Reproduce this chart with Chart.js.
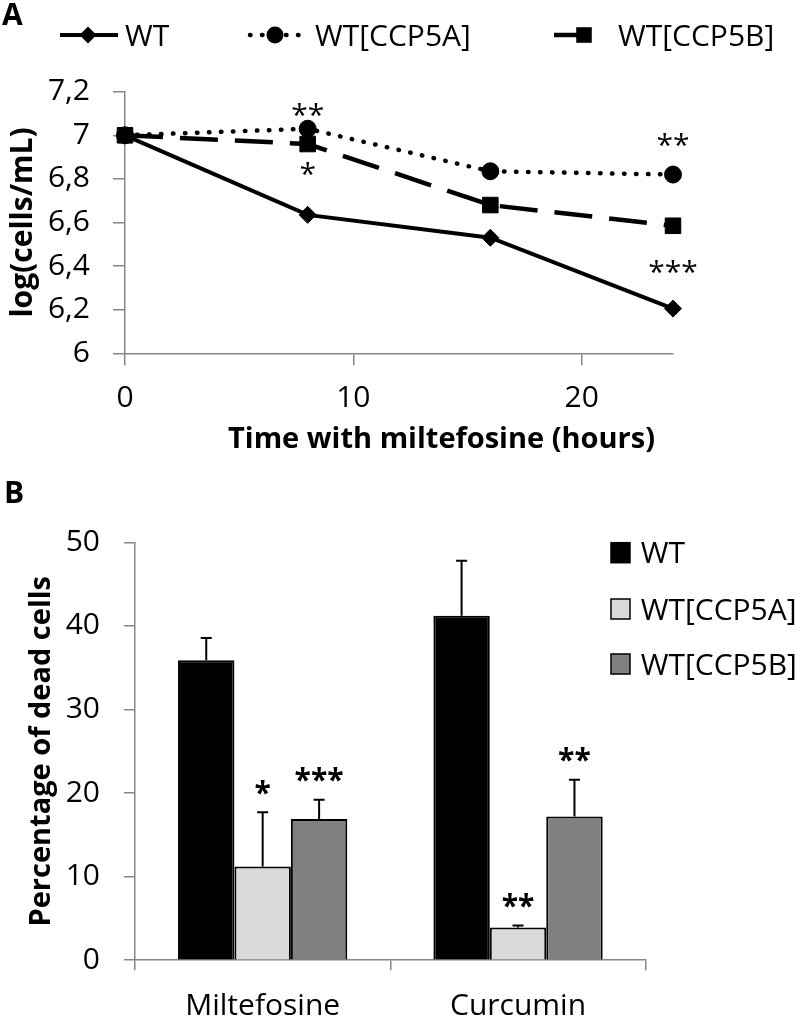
<!DOCTYPE html>
<html>
<head>
<meta charset="utf-8">
<script src="https://cdn.jsdelivr.net/npm/chart.js@4.4.1/dist/chart.umd.min.js"></script>
<style>
  html, body { margin: 0; padding: 0; background: #fff; }
  #wrap { position: relative; width: 800px; height: 1017px; }
  canvas { position: absolute; left: 0; }
  #growth { top: 0; }
  #death { top: 470px; }
</style>
</head>
<body>
<div id="wrap">
  <canvas id="growth" width="800" height="470"></canvas>
  <canvas id="death" width="800" height="547"></canvas>
</div>
<script>
// panel A: growth under miltefosine
const hours = [0, 8, 16, 24];
const logWT = [7.0, 6.635, 6.53, 6.205];
const logCCP5A = [7.0, 7.03, 6.835, 6.82];
const logCCP5B = [7.0, 6.96, 6.68, 6.585];
const strains = ["WT", "WT[CCP5A]", "WT[CCP5B]"];

// panel B: dead cells after treatment
const drugs = ["Miltefosine", "Curcumin"];
const deadWT = [35.9, 41.2];
const deadCCP5A = [11.2, 3.9];
const deadCCP5B = [16.9, 17.2];
const errWT = [2.65, 6.6];
const errCCP5A = [6.5, 0.25];
const errCCP5B = [2.3, 4.4];
const starsWT = ["", ""];
const starsCCP5A = ["*", "**"];
const starsCCP5B = ["***", "**"];

const FONT = "'Open Sans', 'Noto Sans', sans-serif";
const AXIS_GRAY = "#878787";
Chart.defaults.font.family = FONT;
Chart.defaults.color = "#000";

// where the significance marks of panel A sit, relative to their point
const growthStars = [
  { series: 1, hour: 8, text: "**", dy: -19 },
  { series: 2, hour: 8, text: "*", dy: 25 },
  { series: 1, hour: 24, text: "**", dy: -35 },
  { series: 0, hour: 24, text: "***", dy: -42 },
];

function toPoints(values) {
  return hours.map((h, i) => ({ x: h, y: values[i] }));
}

function capText(ctx, text, x, cy, font, align) {
  ctx.font = font;
  ctx.textAlign = align || "left";
  ctx.textBaseline = "alphabetic";
  const cap = ctx.measureText("H").actualBoundingBoxAscent;
  ctx.fillText(text, x, cy + cap / 2);
}

function glyphText(ctx, text, x, cy, font) {
  ctx.font = font;
  ctx.textAlign = "center";
  ctx.textBaseline = "alphabetic";
  const m = ctx.measureText(text);
  ctx.fillText(text, x, cy + (m.actualBoundingBoxAscent - m.actualBoundingBoxDescent) / 2);
}

function drawMarker(ctx, style, x, y, r) {
  ctx.beginPath();
  if (style === "rectRot") {
    ctx.moveTo(x, y - r);
    ctx.lineTo(x + r, y);
    ctx.lineTo(x, y + r);
    ctx.lineTo(x - r, y);
    ctx.closePath();
  } else if (style === "circle") {
    ctx.arc(x, y, r, 0, Math.PI * 2);
  } else {
    const s = r * Math.SQRT1_2;
    ctx.rect(x - s, y - s, 2 * s, 2 * s);
  }
  ctx.fill();
}

const growthDecor = {
  id: "growthDecor",
  afterDraw(chart) {
    const ctx = chart.ctx;
    ctx.save();
    ctx.fillStyle = "#000";
    capText(ctx, "A", 2, 14, "bold 30px " + FONT);

    // legend
    const items = [
      { line: [60, 118], mark: 88, text: 125 },
      { line: [250, 303], mark: 275, text: 315 },
      { line: [554, 584], mark: 584, text: 618 },
    ];
    chart.data.datasets.forEach((ds, i) => {
      const it = items[i];
      ctx.save();
      ctx.strokeStyle = "#000";
      ctx.lineWidth = ds.borderWidth;
      ctx.lineCap = ds.borderCapStyle || "butt";
      ctx.setLineDash(ds.borderDash || []);
      ctx.beginPath();
      ctx.moveTo(it.line[0], 35);
      ctx.lineTo(it.line[1], 35);
      ctx.stroke();
      ctx.restore();
      drawMarker(ctx, ds.pointStyle, it.mark, 35, ds.pointRadius);
      capText(ctx, ds.label, it.text, 35, "30px " + FONT);
    });

    capText(ctx, "Time with miltefosine (hours)", 441.5, 437, "bold 29px " + FONT, "center");

    growthStars.forEach((s) => {
      const pt = chart.getDatasetMeta(s.series).data[hours.indexOf(s.hour)];
      glyphText(ctx, s.text, pt.x, pt.y + s.dy, "30px " + FONT);
    });
    ctx.restore();
  },
};

new Chart(document.getElementById("growth"), {
  type: "line",
  data: {
    datasets: [
      {
        label: strains[0],
        data: toPoints(logWT),
        borderColor: "#000",
        backgroundColor: "#000",
        borderWidth: 4,
        pointStyle: "rectRot",
        pointRadius: 8.5,
        pointBorderWidth: 1,
        clip: false,
      },
      {
        label: strains[1],
        data: toPoints(logCCP5A),
        borderColor: "#000",
        backgroundColor: "#000",
        borderWidth: 4.5,
        borderDash: [0.5, 11.5],
        borderCapStyle: "round",
        pointStyle: "circle",
        pointRadius: 8.5,
        pointBorderWidth: 1,
        clip: false,
      },
      {
        label: strains[2],
        data: toPoints(logCCP5B),
        borderColor: "#000",
        backgroundColor: "#000",
        borderWidth: 4.5,
        borderDash: [38, 17],
        pointStyle: "rect",
        pointRadius: 11,
        pointBorderWidth: 1,
        clip: false,
      },
    ],
  },
  options: {
    responsive: false,
    animation: false,
    events: [],
    layout: { padding: { top: 91.7, right: 127, bottom: 0, left: 0 } },
    plugins: { legend: { display: false }, tooltip: { enabled: false } },
    scales: {
      x: {
        type: "linear",
        min: 0,
        max: 24,
        ticks: { stepSize: 10, includeBounds: false, padding: 14.7, maxRotation: 0, font: { size: 30 } },
        grid: { drawOnChartArea: false, tickLength: 12, color: AXIS_GRAY, lineWidth: 1.5 },
        border: { color: AXIS_GRAY, width: 1.5 },
        afterFit: (s) => { s.height = 116.7; },
      },
      y: {
        min: 6,
        max: 7.2,
        ticks: {
          stepSize: 0.2,
          padding: 23,
          font: { size: 30 },
          callback: (v) => String(Math.round(v * 10) / 10).replace(".", ","),
        },
        grid: { drawOnChartArea: false, tickLength: 12, color: AXIS_GRAY, lineWidth: 1.5 },
        border: { color: AXIS_GRAY, width: 1.5 },
        title: { display: true, text: "log(cells/mL)", font: { size: 30, weight: "bold" }, padding: { top: 5, bottom: 0 } },
        afterFit: (s) => { s.width = 125; },
      },
    },
  },
  plugins: [growthDecor],
});

const deathDecor = {
  id: "deathDecor",
  afterDatasetsDraw(chart) {
    const ctx = chart.ctx;
    const y = chart.scales.y;
    const vals = [deadWT, deadCCP5A, deadCCP5B];
    const errs = [errWT, errCCP5A, errCCP5B];
    ctx.save();
    ctx.strokeStyle = "#000";
    ctx.lineWidth = 2;
    chart.data.datasets.forEach((ds, i) => {
      chart.getDatasetMeta(i).data.forEach((bar, j) => {
        const top = y.getPixelForValue(vals[i][j] + errs[i][j]);
        ctx.beginPath();
        ctx.moveTo(bar.x, bar.y);
        ctx.lineTo(bar.x, top);
        ctx.moveTo(bar.x - 5.5, top);
        ctx.lineTo(bar.x + 5.5, top);
        ctx.stroke();
      });
    });
    ctx.restore();
  },
  afterDraw(chart) {
    const ctx = chart.ctx;
    const y = chart.scales.y;
    const vals = [deadWT, deadCCP5A, deadCCP5B];
    const errs = [errWT, errCCP5A, errCCP5B];
    const stars = [starsWT, starsCCP5A, starsCCP5B];
    ctx.save();
    ctx.fillStyle = "#000";
    capText(ctx, "B", 4, 22, "bold 30px " + FONT);

    chart.data.datasets.forEach((ds, i) => {
      chart.getDatasetMeta(i).data.forEach((bar, j) => {
        if (!stars[i][j]) return;
        const top = y.getPixelForValue(vals[i][j] + errs[i][j]);
        glyphText(ctx, stars[i][j], bar.x, top - 25, "bold 30px " + FONT);
      });
    });

    // legend
    const rows = [82.7, 139, 194];
    chart.data.datasets.forEach((ds, i) => {
      ctx.fillStyle = ds.backgroundColor;
      ctx.fillRect(611, rows[i] - 10, 19, 20);
      ctx.strokeStyle = "#000";
      ctx.lineWidth = 1.5;
      ctx.strokeRect(611, rows[i] - 10, 19, 20);
      ctx.fillStyle = "#000";
      capText(ctx, ds.label, 640.7, rows[i], "30px " + FONT);
    });
    ctx.restore();
  },
};

new Chart(document.getElementById("death"), {
  type: "bar",
  data: {
    labels: drugs,
    datasets: [
      { label: strains[0], data: deadWT, backgroundColor: "#000000" },
      { label: strains[1], data: deadCCP5A, backgroundColor: "#d9d9d9" },
      { label: strains[2], data: deadCCP5B, backgroundColor: "#808080" },
    ],
  },
  options: {
    responsive: false,
    animation: false,
    events: [],
    datasets: { bar: { barPercentage: 1, categoryPercentage: 0.663, borderColor: "#000", borderWidth: 2 } },
    layout: { padding: { top: 72.3, right: 154.3, bottom: 0, left: 0 } },
    plugins: { legend: { display: false }, tooltip: { enabled: false } },
    scales: {
      x: {
        ticks: { padding: 17.8, font: { size: 30 } },
        grid: { drawOnChartArea: false, tickLength: 10, color: AXIS_GRAY, lineWidth: 1.5 },
        border: { color: AXIS_GRAY, width: 1.5 },
        afterFit: (s) => { s.height = 56.8; },
      },
      y: {
        min: 0,
        max: 50,
        ticks: { stepSize: 10, padding: 24, font: { size: 30 } },
        grid: { drawOnChartArea: false, tickLength: 11, color: AXIS_GRAY, lineWidth: 1.5 },
        border: { color: AXIS_GRAY, width: 1.5 },
        title: { display: true, text: "Percentage of dead cells", font: { size: 29, weight: "bold" }, padding: { top: 24.6, bottom: 0 } },
        afterFit: (s) => { s.width = 135; },
      },
    },
  },
  plugins: [deathDecor],
});
</script>
</body>
</html>
